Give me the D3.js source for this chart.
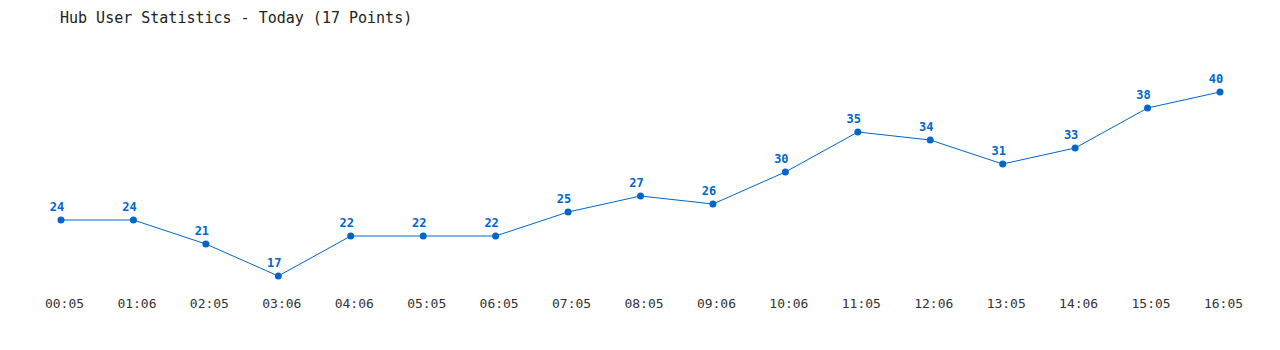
<!DOCTYPE html>
<html>
<head>
<meta charset="utf-8">
<script src="https://cdn.jsdelivr.net/npm/d3@7"></script>
<style>
  body { margin: 0; background: #fff; }
  svg text { font-family: 'DejaVu Sans Mono', 'Liberation Mono', monospace; }
</style>
</head>
<body>
<script>
const times = ['00:05', '01:06', '02:05', '03:06', '04:06', '05:05', '06:05', '07:05', '08:05',
  '09:06', '10:06', '11:05', '12:06', '13:05', '14:06', '15:05', '16:05']
const users = [24, 24, 21, 17, 22, 22, 22, 25, 27, 26, 30, 35, 34, 31, 33, 38, 40]
const title = 'Hub User Statistics - Today (17 Points)'

const SVG_WIDTH = 1280
const SVG_HEIGHT = 350
const COLOR = '#0066cc'

const svg = d3.select('body')
  .append('svg')
  .attr('width', SVG_WIDTH)
  .attr('height', SVG_HEIGHT)

const scaleX = d3.scalePoint()
  .domain(times)
  .range([61, 1220])

const scaleY = d3.scaleLinear()
  .domain([17, 40])
  .range([276, 92])

// title
svg.append('text')
  .text(title)
  .attr('x', 60)
  .attr('y', 23)
  .attr('font-size', '15px')
  .attr('fill', '#222')

// x axis, labels only
const xAxis = svg.append('g')
  .attr('transform', 'translate(3, 299)')
  .call(d3.axisBottom(scaleX).tickSize(0).tickPadding(0))
xAxis.select('.domain').remove()
xAxis.selectAll('text')
  .attr('font-size', '13px')
  .attr('fill', '#333')
  .attr('font-family', "'DejaVu Sans Mono', monospace")

const points = times.map((t, i) => [t, users[i]])

const line = d3.line()
  .x(d => scaleX(d[0]))
  .y(d => scaleY(d[1]))

svg.append('path')
  .datum(points)
  .attr('d', line)
  .attr('fill', 'none')
  .attr('stroke', COLOR)
  .attr('stroke-width', 1)

svg.append('g')
  .selectAll('circle')
  .data(points)
  .enter()
    .append('circle')
    .attr('cx', d => scaleX(d[0]))
    .attr('cy', d => scaleY(d[1]))
    .attr('r', 3.5)
    .attr('fill', COLOR)

svg.append('g')
  .selectAll('text')
  .data(points)
  .enter()
    .append('text')
    .text(d => d[1])
    .attr('x', d => scaleX(d[0]) - 4)
    .attr('y', d => scaleY(d[1]) - 9)
    .attr('text-anchor', 'middle')
    .attr('font-size', '12px')
    .attr('font-weight', 'bold')
    .attr('fill', COLOR)
</script>
</body>
</html>
